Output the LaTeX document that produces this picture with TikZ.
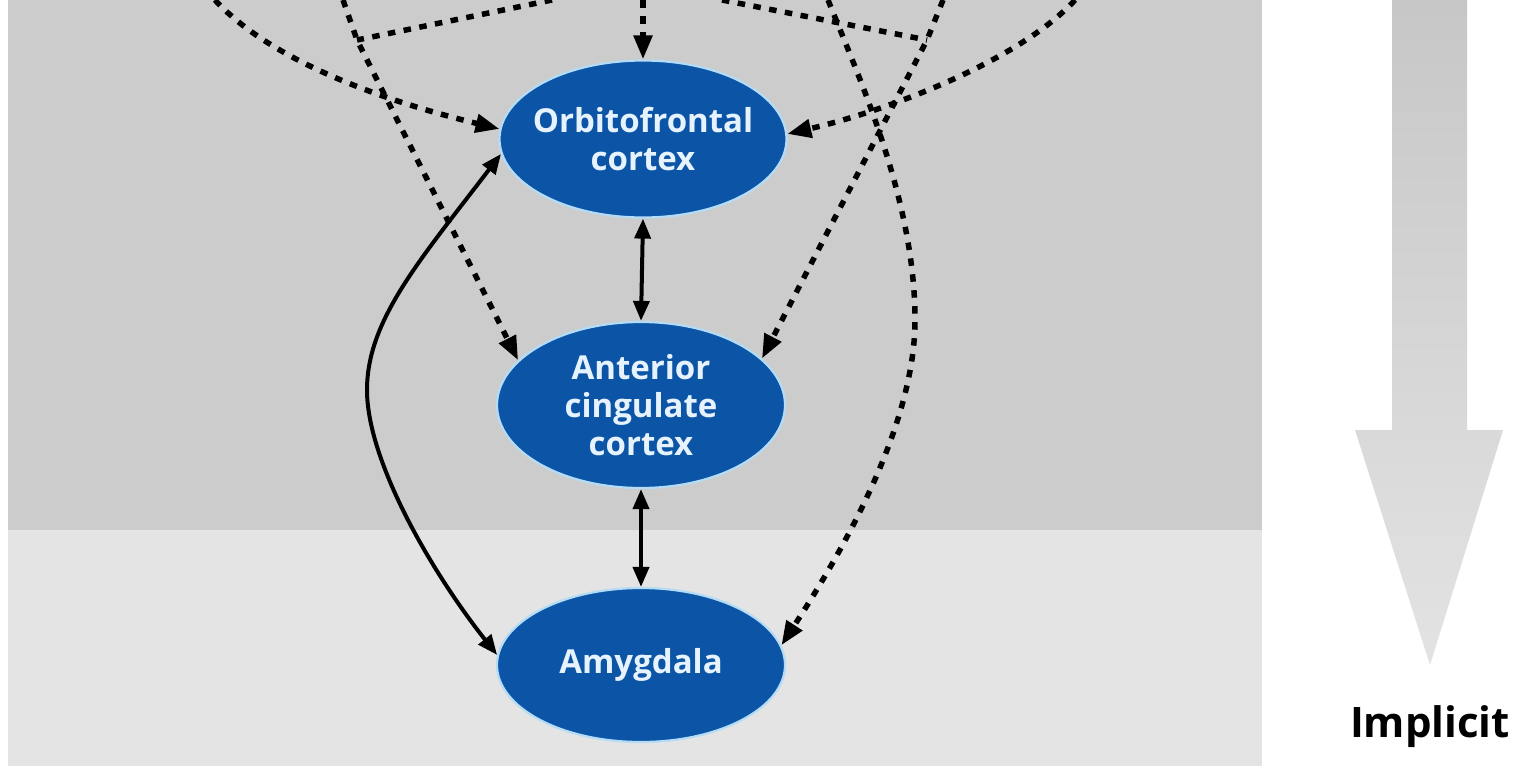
\documentclass[tikz,border=0pt]{standalone}
\usepackage{fontspec}
\setmainfont{Open Sans}
\usetikzlibrary{arrows.meta,shapes.geometric}
\definecolor{bgdark}{HTML}{CCCCCC}
\definecolor{bglight}{HTML}{E4E4E4}
\definecolor{nodeblue}{HTML}{0C55A6}
\definecolor{halo}{HTML}{B4DCF6}
\definecolor{nodetext}{HTML}{E6F3FF}
\begin{document}
\begin{tikzpicture}[x=1pt,y=-1pt,
  region/.style={ellipse, fill=nodeblue, draw=halo, line width=2.2pt,
    inner xsep=-20pt, inner ysep=-6pt,
    text=nodetext, font=\fontsize{33}{38}\selectfont\bfseries, align=center},
  dotline/.style={line width=5.5pt, dash pattern=on 7.5pt off 8.5pt},
  dotlink/.style={dotline, -{Triangle[length=24pt,width=18pt]}},
  solidlink/.style={line width=4pt, {Triangle[length=20pt,width=16pt]}-{Triangle[length=20pt,width=16pt]}}
]
\useasboundingbox (0,0) rectangle (1525,771);
\fill[white] (0,0) rectangle (1525,771);
\fill[bgdark] (8,0) rectangle (1262,530);
\fill[bglight] (8,530) rectangle (1262,766);

% big gradient arrow
\shade[top color=black!22, bottom color=black!11]
  (1392,0) -- (1467,0) -- (1467,430) -- (1503,430) -- (1430,665) -- (1355,430) -- (1392,430) -- cycle;
\node[font=\fontsize{42}{48}\selectfont\bfseries, text=black] (impl) at (1430,727) {Implicit};

% nodes
\node[region, minimum width=287pt, minimum height=157pt] (of) at (643,139) {Orbitofrontal\\cortex};
\node[region, minimum width=288pt, minimum height=166pt] (acc) at (641,405) {Anterior\\cingulate\\cortex};
\node[region, minimum width=288pt, minimum height=154pt] (amy) at (641,665) {Amygdala};

% free ends and waypoints
\coordinate (tTop) at (643,0);
\coordinate (tUL) at (215,0);
\coordinate (tUR) at (1075,0);
\coordinate (tL) at (343,0);
\coordinate (tLb) at (552,0);
\coordinate (jL) at (357,40);
\coordinate (tR) at (943,0);
\coordinate (tRb) at (722,0);
\coordinate (jR) at (927,40);
\coordinate (tA) at (828,0);
\coordinate (bendA) at (915,320);
\coordinate (bendS) at (367,390);

% dashed connectors
\draw[dotlink] (tTop) -- (of.north);
\draw[dotlink] (tUL) .. controls (270,60) and (380,100) .. (of.176);
\draw[dotlink] (tUR) .. controls (1020,60) and (890,110) .. (of.2);
\draw[dotline] (tLb) -- (jL);
\draw[dotlink] (tL) -- (jL) -- (acc.160);
\draw[dotline] (tRb) -- (jR);
\draw[dotlink] (tR) -- (jR) -- (acc.21);
\draw[dotlink] (tA) .. controls (860,80) and (915,200) .. (bendA) .. controls (915,420) and (850,540) .. (amy.8);

% solid connectors
\draw[solidlink] (of.south) -- (acc.north);
\draw[solidlink] (acc.south) -- (amy.north);
\draw[solidlink] (of.186) .. controls (420,260) and (367,320) .. (bendS) .. controls (367,460) and (430,570) .. (amy.176);
\end{tikzpicture}
\end{document}
